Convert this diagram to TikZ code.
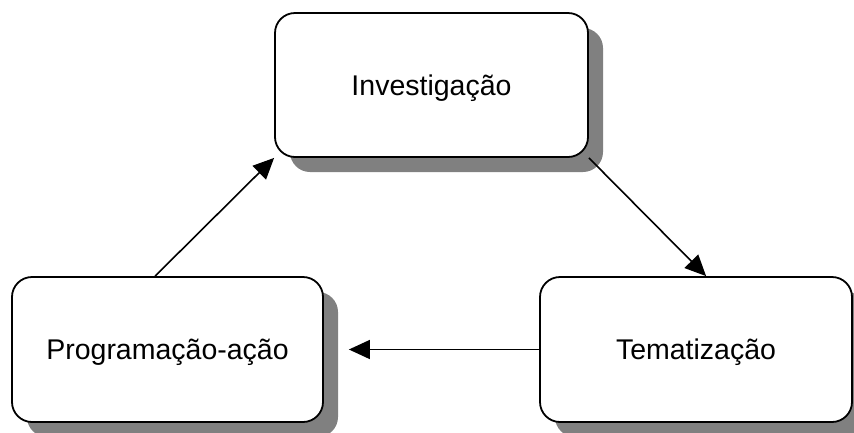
\documentclass[tikz,border=0pt]{standalone}
\usepackage{fontspec}
\setmainfont{Liberation Sans}
\usetikzlibrary{shadows,arrows.meta}
\begin{document}
\begin{tikzpicture}[x=1pt,y=-1pt,
  box/.style={draw, line width=1.8pt, rounded corners=20pt, fill=white,
    font=\fontsize{28.5}{34}\selectfont, text height=20.4pt, text depth=0pt,
    inner sep=0pt,
    drop shadow={opacity=1, fill=black!50, shadow xshift=15pt, shadow yshift=-15pt}},
  arr/.style={line width=1.6pt, -{Triangle[length=21pt,width=19pt]}}]
\useasboundingbox (0,0) rectangle (854,432);
\clip (0,0) rectangle (854,432);
\node[box, minimum width=313pt, minimum height=144pt] (inv) at (431.5,85) {Investigação};
\node[box, minimum width=311pt, minimum height=145pt] (prog) at (167.5,349.5) {Programação-ação};
\node[box, minimum width=312pt, minimum height=145pt] (tem) at (696,349.5) {Tematização};
\draw[arr] ([xshift=144pt]prog.north west) -- (inv.south west);
\draw[arr] (inv.south east) -- ([xshift=167pt]tem.north west);
\draw[arr, shorten >=25pt] (tem.west) -- (prog.east);
\end{tikzpicture}
\end{document}
